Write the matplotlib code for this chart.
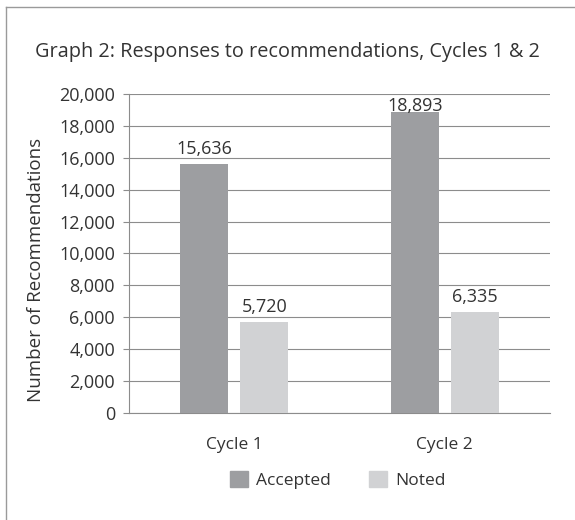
import matplotlib
matplotlib.use("Agg")
import matplotlib.pyplot as plt
from matplotlib.lines import Line2D
from matplotlib.patches import Patch
import numpy as np

plt.rcParams['font.family'] = ['Open Sans', 'DejaVu Sans']

cycles = ["Cycle 1", "Cycle 2"]
accepted = [15636, 18893]
noted = [5720, 6335]
series_names = ["Accepted", "Noted"]
yticks = list(range(0, 20001, 2000))

text_color = "#333333"
dark = "#9d9ea1"
light = "#d1d2d4"
grid_color = "#8c8c8c"

W, H = 575, 520
fig = plt.figure(figsize=(W / 100, H / 100), dpi=100)

# outer frame (only left and top edges fall inside the picture)
fig.add_artist(Line2D([5.5 / W, 5.5 / W], [0, 1 - 7 / H], transform=fig.transFigure, color="#9a9a9a", lw=1))
fig.add_artist(Line2D([5.5 / W, 1], [1 - 7 / H, 1 - 7 / H], transform=fig.transFigure, color="#9a9a9a", lw=1))

ax = fig.add_axes([129 / W, 1 - 413 / H, 421 / W, 319 / H])

x = np.arange(len(cycles))
bw = 0.228
off = 0.1425
b1 = ax.bar(x - off, accepted, bw, color=dark, zorder=3)
b2 = ax.bar(x + off, noted, bw, color=light, zorder=3)

# value labels, kept inside the plot area like the original
for bars, vals in ((b1, accepted), (b2, noted)):
    for b, v in zip(bars, vals):
        ax.text(b.get_x() + b.get_width() / 2, min(v + 625, 18940), f"{v:,}", ha="center",
                va="baseline", fontsize=13, color=text_color, zorder=4)

ax.set_xlim(-0.5, 1.5)
ax.set_ylim(0, 20000)
ax.set_yticks(yticks)
ax.set_yticklabels([f"{t:,}" for t in yticks], fontsize=13, color=text_color)
ax.set_xticks(x)
ax.set_xticklabels(cycles, fontsize=12.5, color=text_color)
ax.tick_params(axis="x", length=0, pad=17)
ax.tick_params(axis="y", length=4, width=0.8, color=grid_color, pad=6)
ax.grid(axis="y", color=grid_color, lw=0.8, zorder=0)
for s in ["top", "right"]:
    ax.spines[s].set_visible(False)
for s in ["left", "bottom"]:
    ax.spines[s].set_color(grid_color)
    ax.spines[s].set_linewidth(0.8)
ax.set_ylabel("Number of Recommendations", fontsize=13.5, color=text_color)
ax.yaxis.set_label_coords((45 - 129) / 421, (413 - 270) / 319)

fig.text(35 / W, 1 - 52 / H, "Graph 2: Responses to recommendations, Cycles 1 & 2",
         ha="left", va="center", fontsize=14.3, color=text_color)

handles = [Patch(color=dark), Patch(color=light)]
fig.legend(handles, series_names, loc="center", bbox_to_anchor=(338 / W, 1 - 480 / H), ncol=2,
           frameon=False, fontsize=12.5, handlelength=1.0, handleheight=1.0, columnspacing=2.2,
           handletextpad=0.5, labelcolor=text_color)

fig.savefig("out.png", dpi=100)
